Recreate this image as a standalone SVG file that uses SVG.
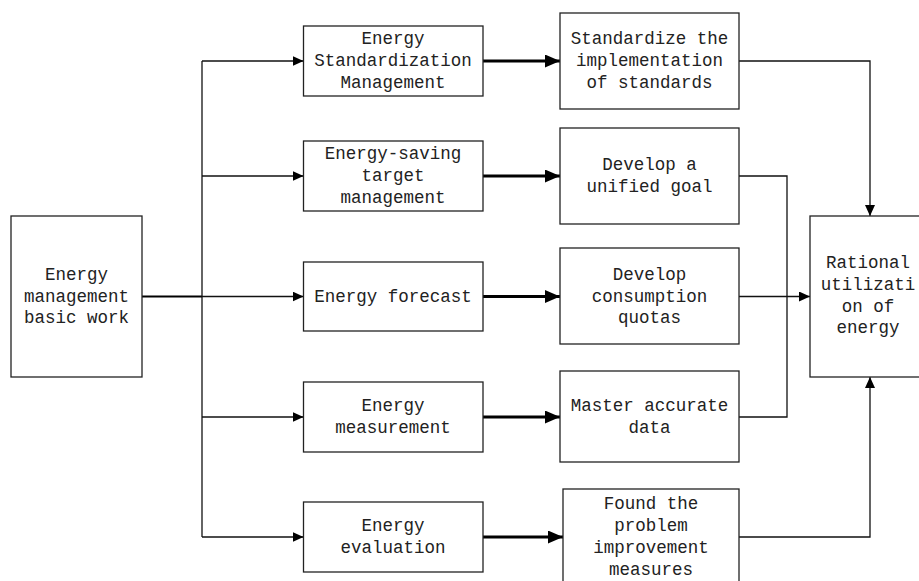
<svg xmlns="http://www.w3.org/2000/svg" width="919" height="581" viewBox="0 0 919 581">
<style>
.box{fill:#fff;stroke:#222;stroke-width:1.3}
.t{font-family:"Liberation Mono","DejaVu Sans Mono",monospace;font-size:17.5px;fill:#222;text-anchor:middle}
.thin{fill:none;stroke:#111;stroke-width:1.3}
.thick{fill:none;stroke:#000;stroke-width:3}
</style>
<defs>
<marker id="a" markerUnits="userSpaceOnUse" markerWidth="11" markerHeight="10" refX="11" refY="5" orient="auto"><path d="M0,0 L11,5 L0,10 z" fill="#000"/></marker>
<marker id="b" markerUnits="userSpaceOnUse" markerWidth="15" markerHeight="13" refX="15" refY="6.5" orient="auto"><path d="M0,0 L15,6.5 L0,13 z" fill="#000"/></marker>
</defs>
<rect width="919" height="581" fill="#fff"/>
<g id="connectors">
<path class="thick" d="M142,296.5 H202" style="stroke-width:2"/>
<path class="thin" d="M202,61 V537"/>
<path class="thin" d="M202,61 H303.5" marker-end="url(#a)"/>
<path class="thin" d="M202,176 H303.5" marker-end="url(#a)"/>
<path class="thin" d="M202,296.5 H303.5" marker-end="url(#a)"/>
<path class="thin" d="M202,417 H303.5" marker-end="url(#a)"/>
<path class="thin" d="M202,537 H303.5" marker-end="url(#a)"/>
<path class="thick" d="M483,61 H560" marker-end="url(#b)"/>
<path class="thick" d="M483,176 H560" marker-end="url(#b)"/>
<path class="thick" d="M483,296.5 H560" marker-end="url(#b)"/>
<path class="thick" d="M483,417 H560" marker-end="url(#b)"/>
<path class="thick" d="M483,537 H563" marker-end="url(#b)"/>
<path class="thin" d="M739,61 H870 V216" marker-end="url(#a)"/>
<path class="thin" d="M739,176 H787 V417 H739"/>
<path class="thin" d="M739,296.5 H810" marker-end="url(#a)"/>
<path class="thin" d="M739,537 H870 V377" marker-end="url(#a)"/>
</g>
<g id="n0"><rect class="box" x="11" y="216" width="131" height="161"/>
<text class="t" x="76.5"><tspan x="76.5" y="280">Energy</tspan><tspan x="76.5" y="302">management</tspan><tspan x="76.5" y="323">basic work</tspan></text></g>
<g id="n1"><rect class="box" x="303.5" y="26" width="179.5" height="70"/>
<text class="t"><tspan x="393" y="44">Energy</tspan><tspan x="393" y="66">Standardization</tspan><tspan x="393" y="88">Management</tspan></text></g>
<g id="n2"><rect class="box" x="303.5" y="141" width="179.5" height="70"/>
<text class="t"><tspan x="393" y="159">Energy-saving</tspan><tspan x="393" y="181">target</tspan><tspan x="393" y="203">management</tspan></text></g>
<g id="n3"><rect class="box" x="303.5" y="262" width="179.5" height="69"/>
<text class="t"><tspan x="393" y="302">Energy forecast</tspan></text></g>
<g id="n4"><rect class="box" x="303.5" y="382" width="179.5" height="70"/>
<text class="t"><tspan x="393" y="411">Energy</tspan><tspan x="393" y="433">measurement</tspan></text></g>
<g id="n5"><rect class="box" x="303.5" y="502" width="179.5" height="70"/>
<text class="t"><tspan x="393" y="531">Energy</tspan><tspan x="393" y="553">evaluation</tspan></text></g>
<g id="r1"><rect class="box" x="560" y="13" width="179" height="96"/>
<text class="t"><tspan x="649.5" y="44">Standardize the</tspan><tspan x="649.5" y="66">implementation</tspan><tspan x="649.5" y="88">of standards</tspan></text></g>
<g id="r2"><rect class="box" x="560" y="128" width="179" height="96"/>
<text class="t"><tspan x="649.5" y="170">Develop a</tspan><tspan x="649.5" y="192">unified goal</tspan></text></g>
<g id="r3"><rect class="box" x="560" y="248" width="179" height="96"/>
<text class="t"><tspan x="649.5" y="280">Develop</tspan><tspan x="649.5" y="302">consumption</tspan><tspan x="649.5" y="323">quotas</tspan></text></g>
<g id="r4"><rect class="box" x="560" y="371" width="179" height="91"/>
<text class="t"><tspan x="649.5" y="411">Master accurate</tspan><tspan x="649.5" y="433">data</tspan></text></g>
<g id="r5"><rect class="box" x="563" y="489" width="176" height="110"/>
<text class="t"><tspan x="651" y="509">Found the</tspan><tspan x="651" y="531">problem</tspan><tspan x="651" y="553">improvement</tspan><tspan x="651" y="575">measures</tspan></text></g>
<g id="target"><rect class="box" x="810" y="216" width="130" height="161"/>
<text class="t"><tspan x="868" y="268">Rational</tspan><tspan x="868" y="290">utilizati</tspan><tspan x="868" y="312">on of</tspan><tspan x="868" y="333">energy</tspan></text></g>
</svg>
